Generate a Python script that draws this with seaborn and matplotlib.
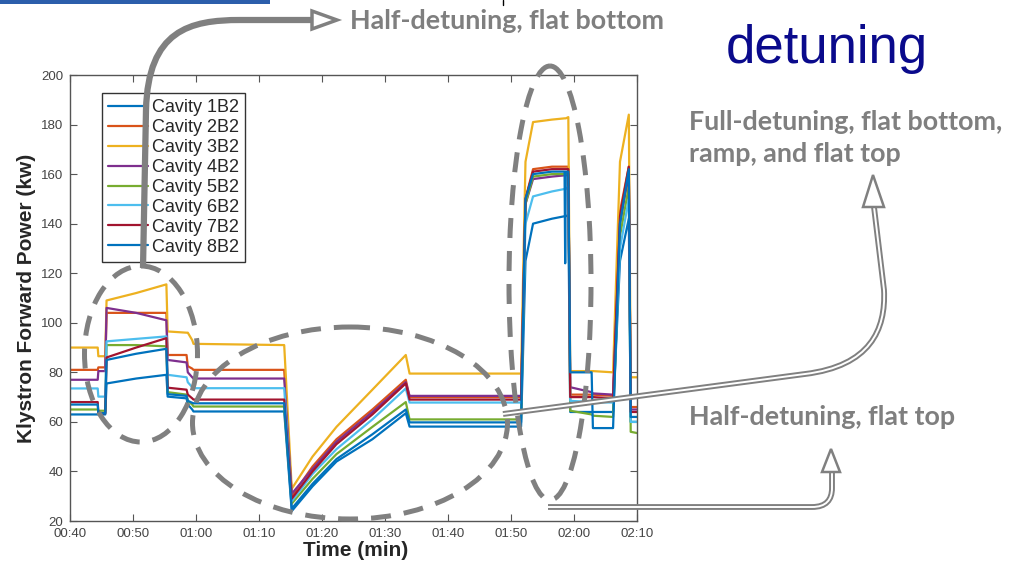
import numpy as np
import pandas as pd
import seaborn as sns
import matplotlib.pyplot as plt
from matplotlib.patches import Ellipse, Polygon, PathPatch, Rectangle
from matplotlib.path import Path

# breakpoint times (minutes after 00:00), shared by all cavities
t_min = [40, 44.4, 44.5, 45.6, 45.8, 50.5, 55.3, 55.5, 58.5, 58.7, 59.4, 59.6,
         74.0, 75.2, 78.5, 82.3, 88.0, 93.3, 93.9, 111.6, 112.3, 113.5, 116.5,
         118.5, 118.6, 118.7, 119.1, 119.4, 122.8, 123.0, 126.2, 127.3, 128.7,
         129.0, 130.0]

# klystron forward power (kw)
cav1 = [63, 63, 63, 63, 75.5, 77.5, 79, 70.2, 69.5, 67, 65, 64.2, 64.2, 24, 34, 44, 53, 63.5,
        58.1, 58.1, 125, 140, 142, 143, 143, 143, 143.5, 64, 64, 64, 64, 125, 142, 60, 60]
cav2 = [81, 81, 82, 82, 104, 104, 104, 87, 87, 82.5, 81.5, 81, 81, 30, 42, 53, 65, 77,
        70, 70, 150, 162, 163, 163, 163, 163, 163, 71, 71, 71, 70.5, 145, 163, 66, 66]
cav3 = [90, 90, 86.5, 86.5, 109, 112, 115.5, 96.5, 96, 96, 93, 91.5, 91, 33, 46, 58, 73, 87,
        79.5, 79.5, 165, 181, 182, 182.5, 182.5, 182.5, 183, 80.5, 80.5, 80.5, 80, 165, 184, 78, 78]
cav4 = [77, 77, 80.5, 80.5, 106, 104, 101, 85, 84, 80, 78, 77.5, 77.5, 31, 41, 52, 64, 76,
        70.5, 70.5, 148, 158, 159, 159.5, 159.5, 159.5, 160, 74, 72, 71.5, 71, 140, 160, 65, 65]
cav5 = [65, 65, 64.5, 64.5, 91, 91, 90.5, 72, 71, 68.5, 67, 66.2, 66.2, 27, 37, 47, 58, 68,
        61, 61, 148, 159, 160, 160, 160, 160, 160, 64.5, 63, 62.5, 62, 135, 155, 56, 55.5]
cav6 = [73.5, 73.5, 70.2, 70.2, 92.5, 93.5, 94.5, 79, 78, 76, 74, 73.6, 73.6, 28, 39, 49, 61, 73.5,
        67.8, 67.8, 140, 151, 153, 154, 154, 154, 155, 68.5, 68, 68, 67.8, 130, 150, 60, 60]
cav7 = [68, 68, 63.5, 63.5, 86, 90, 93.8, 73.8, 73, 71, 69.5, 69, 69, 29, 40, 51, 63, 75.5,
        69, 69, 150, 161, 162, 162, 162, 162, 162, 70, 70, 70, 69.5, 143, 163, 64, 64]
cav8 = [67, 67, 63.5, 63.5, 85, 87.5, 89.5, 71.2, 70.5, 68.5, 67.7, 67.5, 67.5, 25, 35, 45, 55, 65,
        59.8, 59.8, 150, 160, 161, 161, 124, 161, 161, 80, 80, 57.5, 57.5, 140, 162, 62, 62]

cavities = ['Cavity 1B2', 'Cavity 2B2', 'Cavity 3B2', 'Cavity 4B2',
            'Cavity 5B2', 'Cavity 6B2', 'Cavity 7B2', 'Cavity 8B2']
colors = ['#0072BD', '#D95319', '#EDB120', '#7E2F8E',
          '#77AC30', '#4DBEEE', '#A2142F', '#0072BD']
x_ticks = [40, 50, 60, 70, 80, 90, 100, 110, 120, 130]
x_tick_labels = ['00:40', '00:50', '01:00', '01:10', '01:20',
                 '01:30', '01:40', '01:50', '02:00', '02:10']

df = pd.DataFrame({
    't': t_min * 8,
    'kw': cav1 + cav2 + cav3 + cav4 + cav5 + cav6 + cav7 + cav8,
    'cavity': np.repeat(cavities, len(t_min)),
})

sns.set_style('ticks')
plt.rcParams['font.family'] = ['Liberation Sans', 'DejaVu Sans']

fig = plt.figure(figsize=(10.21, 5.64), dpi=100)
ax = fig.add_axes([70 / 1021, 43 / 564, 567 / 1021, 446 / 564])

sns.lineplot(data=df, x='t', y='kw', hue='cavity', hue_order=cavities,
             palette=colors, estimator=None, sort=False, lw=1.6, ax=ax)

ax.set_xlim(40, 130)
ax.set_ylim(20, 200)
ax.set_xticks(x_ticks)
ax.set_xticklabels(x_tick_labels)
ax.set_yticks(range(20, 201, 20))
ax.tick_params(direction='in', top=True, right=True, length=5, width=0.8,
               color='#555555', labelcolor='#444444', labelsize=9.5, pad=5)
for s in ax.spines.values():
    s.set_color('#555555')
    s.set_linewidth(1.0)

ax.set_xlabel('Time (min)', fontsize=15, fontweight='bold', color='#262626')
ax.set_ylabel('Klystron Forward Power (kw)', fontsize=15, fontweight='bold', color='#262626')
ax.xaxis.set_label_coords(0.503, -0.045)
ax.yaxis.set_label_coords(-0.06, 0.5)

sns.move_legend(ax, 'upper left', bbox_to_anchor=(0.0564, 0.9596), title=None,
                frameon=True, fancybox=False, fontsize=13, borderaxespad=0,
                handlelength=2.2, handletextpad=0.2, labelspacing=0.16,
                borderpad=0.35, edgecolor='#333333', framealpha=1)
ax.get_legend().get_frame().set_linewidth(1.0)

# slide annotations drawn in pixel coordinates
ov = fig.add_axes([0, 0, 1, 1], zorder=5)
ov.set_xlim(0, 1021)
ov.set_ylim(564, 0)
ov.axis('off')
grey = '#808080'

ov.add_patch(Rectangle((0, 0), 270, 4, color='#2c5eab', lw=0))
ov.plot([503, 503], [0, 5], color='black', lw=1)

dash = (0, (4, 2.6))
for cx, cy, w, h in [(141, 354, 113, 176), (350, 423, 315, 192), (550, 283, 82, 434)]:
    ov.add_patch(Ellipse((cx, cy), w, h, fill=False, ec=grey, lw=3.6, ls=dash))

# solid arrow to "flat bottom" label
p = Path([(143, 268), (146, 110), (148, 30), (190, 20), (240, 20), (312, 20)],
         [Path.MOVETO, Path.LINETO, Path.CURVE4, Path.CURVE4, Path.CURVE4, Path.LINETO])
ov.add_patch(PathPatch(p, fill=False, ec=grey, lw=4.5, capstyle='butt'))
ov.add_patch(Polygon([(312, 11), (337, 20), (312, 29)], closed=True,
                     fc='white', ec=grey, lw=2.5, joinstyle='miter'))

# hollow arrows
p1 = Path([(503, 414), (805, 374), (870, 366), (886, 330), (884, 290), (874, 207)],
          [Path.MOVETO, Path.LINETO, Path.CURVE4, Path.CURVE4, Path.CURVE4, Path.LINETO])
p2 = Path([(548, 507), (812, 507), (826, 507), (832, 500), (832, 488), (832, 472)],
          [Path.MOVETO, Path.LINETO, Path.CURVE4, Path.CURVE4, Path.CURVE4, Path.LINETO])
for pp in (p1, p2):
    ov.add_patch(PathPatch(pp, fill=False, ec=grey, lw=4.2, capstyle='butt'))
    ov.add_patch(PathPatch(pp, fill=False, ec='white', lw=1.4, capstyle='butt'))
ov.add_patch(Polygon([(863, 207), (873, 175), (884, 207)], closed=True,
                     fc='white', ec=grey, lw=1.8, joinstyle='miter'))
ov.add_patch(Polygon([(822, 472), (831, 449), (840, 472)], closed=True,
                     fc='white', ec=grey, lw=1.8, joinstyle='miter'))

lbl = dict(fontsize=19.4, family='Lato', fontweight='bold', color='#7f7f7f')
ov.text(350, 29, 'Half-detuning, flat bottom', **lbl)
ov.text(689, 130, 'Full-detuning, flat bottom,', **lbl)
ov.text(689, 162, 'ramp, and flat top', **lbl)
ov.text(689, 425, 'Half-detuning, flat top', **lbl)
ov.text(726, 63, 'detuning', fontsize=38, color='#0a0a8c')

fig.savefig('out.png', dpi=100)
